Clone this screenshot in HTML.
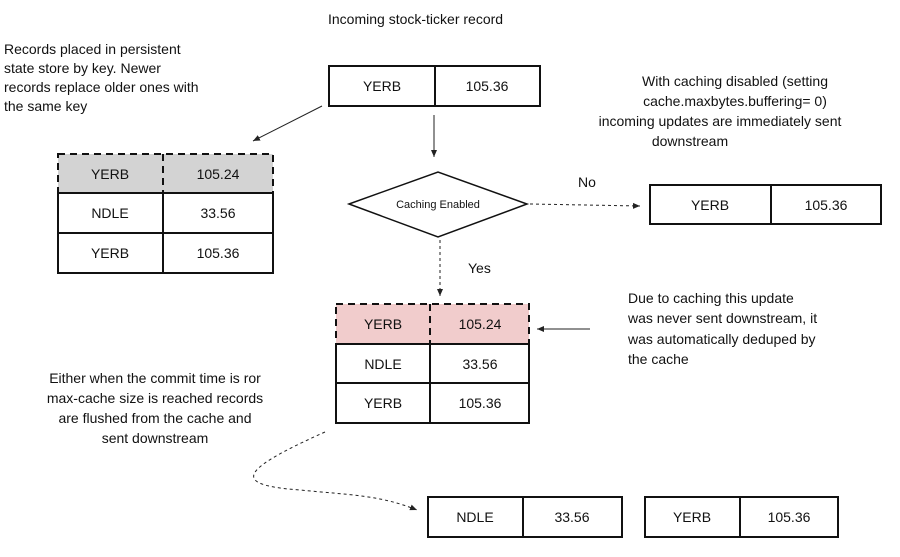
<!DOCTYPE html>
<html><head><style>
body{margin:0;width:900px;height:552px;background:#fff;overflow:hidden}
svg text{font-family:"Liberation Sans",sans-serif;fill:#111}
</style></head><body>
<svg width="900" height="552" viewBox="0 0 900 552" xmlns="http://www.w3.org/2000/svg">
<defs><marker id="a" markerWidth="8" markerHeight="8" refX="7" refY="4" orient="auto"><path d="M0,1 L7,4 L0,7 z" fill="#222"/></marker></defs>
<g font-size="14">
<text x="328" y="24" font-size="14">Incoming stock-ticker record</text>
<text x="4" y="54">Records placed in persistent</text>
<text x="4" y="73">state store by key.  Newer</text>
<text x="4" y="92">records replace older ones with</text>
<text x="4" y="111">the same key</text>
<text x="735" y="86" text-anchor="middle">With caching disabled (setting</text>
<text x="735" y="106" text-anchor="middle">cache.maxbytes.buffering= 0)</text>
<text x="720" y="126" text-anchor="middle">incoming updates are immediately sent</text>
<text x="690" y="146" text-anchor="middle">downstream</text>
<text x="578" y="187">No</text>
<text x="468" y="273">Yes</text>
<text x="628" y="303">Due to caching this update</text>
<text x="628" y="323">was never sent downstream, it</text>
<text x="628" y="344">was automatically deduped by</text>
<text x="628" y="364">the cache</text>
<text x="155" y="383" text-anchor="middle">Either when the commit time is ror</text>
<text x="155" y="403" text-anchor="middle">max-cache size is reached records</text>
<text x="155" y="423" text-anchor="middle">are flushed from the cache and</text>
<text x="155" y="443" text-anchor="middle">sent downstream</text>
</g>
<g stroke="#111" stroke-width="2" fill="none">
<rect x="329" y="66" width="211" height="40"/><line x1="435" y1="66" x2="435" y2="106"/>
<rect x="58" y="154" width="215" height="39" fill="#d3d3d3" stroke-dasharray="7,5"/>
<line x1="163" y1="154" x2="163" y2="193" stroke-dasharray="7,5"/>
<rect x="58" y="193" width="215" height="80"/><line x1="58" y1="233" x2="273" y2="233"/><line x1="163" y1="193" x2="163" y2="273"/>
<polygon points="349,204 438,172 527,204 438,237" stroke-width="1.5"/>
<rect x="650" y="185" width="231" height="39"/><line x1="771" y1="185" x2="771" y2="224"/>
<rect x="336" y="304" width="193" height="40" fill="#f1cccc" stroke-dasharray="7,5"/>
<line x1="430" y1="304" x2="430" y2="344" stroke-dasharray="7,5"/>
<rect x="336" y="344" width="193" height="79"/><line x1="336" y1="383" x2="529" y2="383"/><line x1="430" y1="344" x2="430" y2="423"/>
<rect x="428" y="497" width="194" height="40"/><line x1="523" y1="497" x2="523" y2="537"/>
<rect x="645" y="497" width="193" height="40"/><line x1="740" y1="497" x2="740" y2="537"/>
</g>
<g stroke="#222" stroke-width="1" fill="none">
<line x1="322" y1="106" x2="253" y2="141" marker-end="url(#a)"/>
<line x1="434" y1="115" x2="434" y2="157" marker-end="url(#a)"/>
<line x1="530" y1="204" x2="640" y2="206" stroke-dasharray="3,3" marker-end="url(#a)"/>
<line x1="440" y1="240" x2="440" y2="296" stroke-dasharray="3,3" marker-end="url(#a)"/>
<line x1="590" y1="329" x2="537" y2="329" marker-end="url(#a)"/>
<path d="M325,432 C240,470 230,485 300,490 C350,495 380,495 417,510" stroke-dasharray="3,3" marker-end="url(#a)"/>
</g>
<g font-size="14" text-anchor="middle">
<text x="382" y="91">YERB</text><text x="487" y="91">105.36</text>
<text x="110" y="179">YERB</text><text x="218" y="179">105.24</text>
<text x="110" y="218">NDLE</text><text x="218" y="218">33.56</text>
<text x="110" y="258">YERB</text><text x="218" y="258">105.36</text>
<text x="438" y="208" font-size="11">Caching Enabled</text>
<text x="710" y="210">YERB</text><text x="826" y="210">105.36</text>
<text x="383" y="329">YERB</text><text x="480" y="329">105.24</text>
<text x="383" y="369">NDLE</text><text x="480" y="369">33.56</text>
<text x="383" y="408">YERB</text><text x="480" y="408">105.36</text>
<text x="475" y="522">NDLE</text><text x="572" y="522">33.56</text>
<text x="692" y="522">YERB</text><text x="789" y="522">105.36</text>
</g>
</svg>
</body></html>
